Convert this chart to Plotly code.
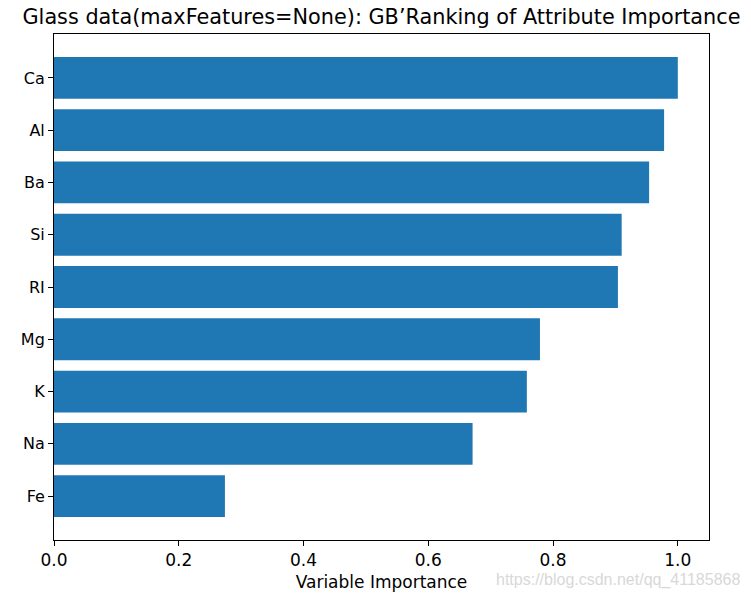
import plotly.graph_objects as go

attributes = ["Fe", "Na", "K", "Mg", "RI", "Si", "Ba", "Al", "Ca"]
importance = [0.274, 0.671, 0.758, 0.779, 0.904, 0.910, 0.954, 0.978, 1.0]
x_ticks = [0.0, 0.2, 0.4, 0.6, 0.8, 1.0]
x_tick_labels = ["0.0", "0.2", "0.4", "0.6", "0.8", "1.0"]

title_text = "Glass data(maxFeatures=None): GB\u2019Ranking of Attribute Importance"
x_title = "Variable Importance"
watermark = "https://blog.csdn.net/qq_41185868"

font_family = "DejaVu Sans"

fig = go.Figure()
fig.add_trace(go.Bar(
    x=importance,
    y=attributes,
    orientation="h",
    width=0.8,
    marker=dict(color="#1f77b4", line=dict(width=0)),
    hoverinfo="x+y",
))

fig.update_layout(
    width=751,
    height=599,
    margin=dict(l=54, r=42, t=34, b=59, autoexpand=False),
    paper_bgcolor="white",
    plot_bgcolor="white",
    showlegend=False,
    font=dict(family=font_family, size=17, color="#000000"),
    title=dict(
        text=title_text,
        x=0.5, xanchor="center",
        y=1 - 17 / 599, yanchor="middle",
        xref="paper",
        font=dict(family=font_family, size=20.8, color="#000000"),
    ),
    xaxis=dict(
        automargin=False,
        range=[0, 1.05],
        tickvals=x_ticks,
        ticktext=x_tick_labels,
        ticks="outside",
        ticklen=5,
        tickwidth=1,
        tickcolor="black",
        showline=True,
        linecolor="black",
        linewidth=1,
        mirror=True,
        showgrid=False,
        zeroline=False,
        tickfont=dict(family=font_family, size=17, color="#000000"),
        title=dict(text=x_title, standoff=6,
                   font=dict(family=font_family, size=17, color="#000000")),
    ),
    yaxis=dict(
        automargin=False,
        type="category",
        categoryorder="array",
        categoryarray=attributes,
        range=[-0.84, 8.84],
        ticks="outside",
        ticklen=5,
        tickwidth=1,
        tickcolor="black",
        showline=True,
        linecolor="black",
        linewidth=1,
        mirror=True,
        showgrid=False,
        zeroline=False,
        tickfont=dict(family=font_family, size=16, color="#000000"),
    ),
    annotations=[dict(
        text=watermark,
        xref="paper", yref="paper",
        x=(742 - 54) / 655, y=-(580 - 540) / 506,
        xanchor="right", yanchor="middle",
        showarrow=False,
        font=dict(family="Liberation Sans", size=16, color="#d8d8d8"),
    )],
)

fig.write_html(
    "out.html",
    config={"displayModeBar": False},
    post_script="document.body.style.margin='0';document.body.style.overflow='hidden';",
)
